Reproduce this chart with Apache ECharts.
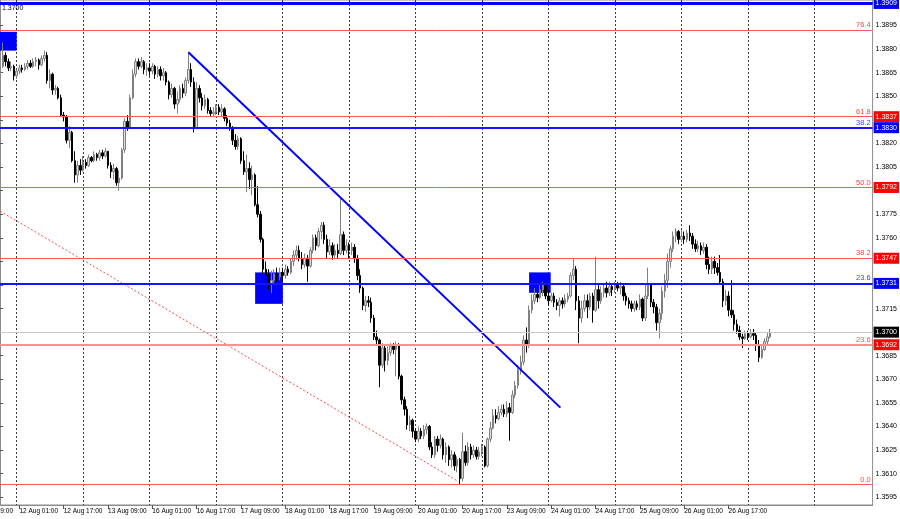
<!DOCTYPE html>
<html><head><meta charset="utf-8">
<script src="https://cdn.jsdelivr.net/npm/echarts@6/dist/echarts.min.js"></script>
<style>html,body{margin:0;padding:0;background:#fff}#c{width:900px;height:519px}</style>
</head><body><div id="c"></div>
<script>
// ---- data ----
const sessions = [['11 Aug',18,23],['12 Aug',0,23],['13 Aug',0,23],['16 Aug',0,23],['17 Aug',0,23],['18 Aug',0,23],['19 Aug',0,23],['20 Aug',0,23],['23 Aug',0,23],['24 Aug',0,23],['25 Aug',0,23],['26 Aug',0,23],['27 Aug',0,23],['30 Aug',0,21]];
const tickLabels = ['12 Aug 01:00','12 Aug 17:00','13 Aug 09:00','16 Aug 01:00','16 Aug 17:00','17 Aug 09:00','18 Aug 01:00','18 Aug 17:00','19 Aug 09:00','20 Aug 01:00','20 Aug 17:00','23 Aug 09:00','24 Aug 01:00','24 Aug 17:00','25 Aug 09:00','26 Aug 01:00','26 Aug 17:00'];
const priceTicks = [1.3595,1.3610,1.3625,1.3640,1.3655,1.3670,1.3685,1.3700,1.3715,1.3730,1.3745,1.3760,1.3775,1.3790,1.3805,1.3820,1.3835,1.3850,1.3865,1.3880,1.3895];

const opens = [
1.3865,1.3869,1.3876,1.3872,1.3868,1.3869,
1.3863,1.3866,1.3868,1.3867,1.3869,1.3871,1.3869,1.3872,1.3873,1.3870,1.3874,1.3876,1.3860,1.3864,1.3854,1.3855,1.3849,1.3838,1.3837,1.3822,1.3827,1.3809,1.3800,1.3806,
1.3803,1.3808,1.3806,1.3811,1.3809,1.3813,1.3811,1.3814,1.3812,1.3815,1.3806,1.3802,1.3804,1.3795,1.3798,1.3816,1.3834,1.3830,1.3849,1.3864,1.3872,1.3869,1.3872,1.3867,
1.3868,1.3866,1.3869,1.3864,1.3867,1.3863,1.3865,1.3859,1.3851,1.3855,1.3845,1.3848,1.3855,1.3852,1.3860,1.3867,1.3859,1.3830,1.3855,1.3849,1.3844,1.3848,1.3841,1.3839,
1.3840,1.3843,1.3840,1.3842,1.3836,1.3833,1.3830,1.3822,1.3818,1.3823,1.3809,1.3802,1.3804,1.3797,1.3800,1.3781,1.3775,1.3759,1.3740,1.3736,1.3731,1.3733,1.3737,1.3735,
1.3738,1.3736,1.3740,1.3738,1.3745,1.3749,1.3752,1.3747,1.3743,1.3747,1.3742,1.3752,1.3760,1.3755,1.3764,1.3768,1.3759,1.3751,1.3755,1.3749,1.3752,1.3750,1.3762,1.3752,
1.3755,1.3752,1.3754,1.3747,1.3736,1.3728,1.3717,1.3720,1.3719,1.3709,1.3697,1.3695,1.3679,1.3690,1.3682,1.3687,1.3691,1.3689,1.3692,1.3672,1.3657,1.3651,1.3641,1.3644,
1.3637,1.3632,1.3637,1.3634,1.3638,1.3640,1.3627,1.3622,1.3632,1.3628,1.3632,1.3622,1.3627,1.3619,1.3622,1.3615,1.3619,1.3607,1.3624,1.3617,1.3627,1.3622,1.3625,1.3621,
1.3624,1.3627,1.3615,1.3632,1.3639,1.3647,1.3645,1.3649,1.3651,1.3648,1.3652,1.3649,1.3660,1.3666,1.3676,1.3681,1.3695,1.3692,1.3714,1.3720,1.3724,1.3722,1.3727,1.3730,
1.3723,1.3720,1.3723,1.3719,1.3717,1.3720,1.3718,1.3721,1.3723,1.3736,1.3740,1.3720,1.3709,1.3715,1.3720,1.3716,1.3723,1.3714,1.3727,1.3720,1.3725,1.3728,1.3725,1.3729,
1.3727,1.3730,1.3728,1.3729,1.3723,1.3720,1.3718,1.3715,1.3718,1.3716,1.3721,1.3709,1.3723,1.3730,1.3719,1.3716,1.3706,1.3712,1.3726,1.3733,1.3745,1.3753,1.3761,1.3764,
1.3759,1.3761,1.3759,1.3763,1.3761,1.3756,1.3753,1.3755,1.3752,1.3754,1.3743,1.3740,1.3745,1.3741,1.3738,1.3732,1.3720,1.3723,1.3714,1.3711,1.3705,1.3701,1.3697,1.3696,
1.3699,1.3697,1.3699,1.3698,1.3692,1.3684,1.3689,1.3694,1.3697];

const closes = [
1.3869,1.3876,1.3872,1.3868,1.3869,1.3863,
1.3866,1.3868,1.3867,1.3869,1.3871,1.3869,1.3872,1.3873,1.3870,1.3874,1.3876,1.3860,1.3864,1.3854,1.3855,1.3849,1.3838,1.3837,1.3822,1.3827,1.3809,1.3800,1.3806,1.3803,
1.3808,1.3806,1.3811,1.3809,1.3813,1.3811,1.3814,1.3812,1.3815,1.3806,1.3802,1.3804,1.3795,1.3798,1.3816,1.3834,1.3830,1.3849,1.3864,1.3872,1.3869,1.3872,1.3867,1.3868,
1.3866,1.3869,1.3864,1.3867,1.3863,1.3865,1.3859,1.3851,1.3855,1.3845,1.3848,1.3855,1.3852,1.3860,1.3867,1.3859,1.3830,1.3855,1.3849,1.3844,1.3848,1.3841,1.3839,1.3840,
1.3843,1.3840,1.3842,1.3836,1.3833,1.3830,1.3822,1.3818,1.3823,1.3809,1.3802,1.3804,1.3797,1.3800,1.3781,1.3775,1.3759,1.3740,1.3736,1.3731,1.3733,1.3737,1.3735,1.3738,
1.3736,1.3740,1.3738,1.3745,1.3749,1.3752,1.3747,1.3743,1.3747,1.3742,1.3752,1.3760,1.3755,1.3764,1.3768,1.3759,1.3751,1.3755,1.3749,1.3752,1.3750,1.3762,1.3752,1.3755,
1.3752,1.3754,1.3747,1.3736,1.3728,1.3717,1.3720,1.3719,1.3709,1.3697,1.3695,1.3679,1.3690,1.3682,1.3687,1.3691,1.3689,1.3692,1.3672,1.3657,1.3651,1.3641,1.3644,1.3637,
1.3632,1.3637,1.3634,1.3638,1.3640,1.3627,1.3622,1.3632,1.3628,1.3632,1.3622,1.3627,1.3619,1.3622,1.3615,1.3619,1.3607,1.3624,1.3617,1.3627,1.3622,1.3625,1.3621,1.3624,
1.3627,1.3615,1.3632,1.3639,1.3647,1.3645,1.3649,1.3651,1.3648,1.3652,1.3649,1.3660,1.3666,1.3676,1.3681,1.3695,1.3692,1.3714,1.3720,1.3724,1.3722,1.3727,1.3730,1.3723,
1.3720,1.3723,1.3719,1.3717,1.3720,1.3718,1.3721,1.3723,1.3736,1.3740,1.3720,1.3709,1.3715,1.3720,1.3716,1.3723,1.3714,1.3727,1.3720,1.3725,1.3728,1.3725,1.3729,1.3727,
1.3730,1.3728,1.3729,1.3723,1.3720,1.3718,1.3715,1.3718,1.3716,1.3721,1.3709,1.3723,1.3730,1.3719,1.3716,1.3706,1.3712,1.3726,1.3733,1.3745,1.3753,1.3761,1.3764,1.3759,
1.3761,1.3759,1.3763,1.3761,1.3756,1.3753,1.3755,1.3752,1.3754,1.3743,1.3740,1.3745,1.3741,1.3738,1.3732,1.3720,1.3723,1.3714,1.3711,1.3705,1.3701,1.3697,1.3696,1.3699,
1.3697,1.3699,1.3698,1.3692,1.3684,1.3689,1.3694,1.3697,1.3700];

const highs = [
1.3871,1.3884,1.3878,1.3874,1.3872,1.3870,
1.3867,1.3870,1.3870,1.3871,1.3873,1.3873,1.3874,1.3875,1.3874,1.3876,1.3879,1.3878,1.3867,1.3865,1.3857,1.3856,1.3851,1.3840,1.3838,1.3831,1.3828,1.3815,1.3809,1.3810,
1.3812,1.3810,1.3813,1.3812,1.3815,1.3814,1.3816,1.3816,1.3817,1.3815,1.3808,1.3807,1.3805,1.3803,1.3817,1.3836,1.3838,1.3851,1.3867,1.3874,1.3874,1.3875,1.3873,1.3871,
1.3871,1.3871,1.3870,1.3869,1.3869,1.3868,1.3866,1.3860,1.3858,1.3856,1.3853,1.3857,1.3858,1.3862,1.3878,1.3871,1.3862,1.3859,1.3857,1.3852,1.3851,1.3849,1.3843,1.3843,
1.3845,1.3845,1.3845,1.3843,1.3838,1.3835,1.3831,1.3826,1.3825,1.3824,1.3815,1.3813,1.3808,1.3806,1.3801,1.3793,1.3777,1.3760,1.3745,1.3740,1.3739,1.3740,1.3741,1.3741,
1.3741,1.3743,1.3742,1.3747,1.3752,1.3755,1.3755,1.3751,1.3750,1.3749,1.3754,1.3762,1.3762,1.3766,1.3770,1.3770,1.3762,1.3759,1.3757,1.3756,1.3756,1.3785,1.3764,1.3759,
1.3757,1.3757,1.3756,1.3749,1.3740,1.3729,1.3723,1.3723,1.3722,1.3711,1.3701,1.3696,1.3693,1.3692,1.3691,1.3693,1.3693,1.3694,1.3693,1.3673,1.3659,1.3653,1.3647,1.3645,
1.3639,1.3640,1.3639,1.3641,1.3642,1.3641,1.3630,1.3634,1.3634,1.3635,1.3633,1.3630,1.3628,1.3625,1.3624,1.3621,1.3620,1.3636,1.3628,1.3630,1.3629,1.3628,1.3627,1.3627,
1.3629,1.3628,1.3633,1.3643,1.3651,1.3651,1.3653,1.3654,1.3654,1.3656,1.3655,1.3663,1.3669,1.3679,1.3685,1.3698,1.3703,1.3717,1.3724,1.3728,1.3727,1.3731,1.3732,1.3731,
1.3727,1.3725,1.3725,1.3721,1.3722,1.3722,1.3724,1.3725,1.3738,1.3747,1.3742,1.3723,1.3720,1.3724,1.3724,1.3725,1.3725,1.3748,1.3730,1.3729,1.3731,1.3732,1.3732,1.3731,
1.3732,1.3732,1.3732,1.3731,1.3725,1.3722,1.3720,1.3720,1.3720,1.3724,1.3722,1.3731,1.3741,1.3731,1.3721,1.3718,1.3715,1.3729,1.3737,1.3750,1.3755,1.3764,1.3766,1.3765,
1.3765,1.3764,1.3765,1.3768,1.3763,1.3759,1.3758,1.3757,1.3757,1.3756,1.3748,1.3748,1.3748,1.3744,1.3749,1.3734,1.3727,1.3726,1.3733,1.3714,1.3708,1.3704,1.3699,1.3701,
1.3701,1.3702,1.3702,1.3700,1.3695,1.3691,1.3696,1.3700,1.3702];

const lows = [
1.3862,1.3868,1.3869,1.3866,1.3866,1.3860,
1.3861,1.3864,1.3865,1.3866,1.3867,1.3868,1.3868,1.3869,1.3867,1.3869,1.3872,1.3858,1.3855,1.3851,1.3851,1.3848,1.3837,1.3834,1.3820,1.3817,1.3808,1.3795,1.3795,1.3800,
1.3802,1.3804,1.3805,1.3808,1.3808,1.3809,1.3809,1.3810,1.3811,1.3804,1.3798,1.3797,1.3793,1.3790,1.3797,1.3814,1.3828,1.3829,1.3848,1.3862,1.3867,1.3868,1.3864,1.3863,
1.3863,1.3864,1.3861,1.3862,1.3860,1.3860,1.3857,1.3848,1.3849,1.3842,1.3839,1.3846,1.3849,1.3850,1.3858,1.3856,1.3827,1.3829,1.3846,1.3841,1.3842,1.3839,1.3837,1.3837,
1.3838,1.3838,1.3837,1.3834,1.3831,1.3828,1.3819,1.3816,1.3816,1.3807,1.3800,1.3789,1.3791,1.3787,1.3780,1.3773,1.3757,1.3737,1.3733,1.3727,1.3725,1.3731,1.3732,1.3733,
1.3732,1.3734,1.3736,1.3737,1.3742,1.3746,1.3745,1.3740,1.3741,1.3732,1.3741,1.3750,1.3752,1.3754,1.3759,1.3756,1.3747,1.3749,1.3746,1.3747,1.3747,1.3749,1.3749,1.3750,
1.3747,1.3749,1.3744,1.3733,1.3725,1.3714,1.3713,1.3716,1.3706,1.3695,1.3692,1.3665,1.3677,1.3675,1.3679,1.3685,1.3686,1.3672,1.3670,1.3654,1.3647,1.3638,1.3637,1.3633,
1.3630,1.3630,1.3632,1.3632,1.3635,1.3625,1.3620,1.3620,1.3624,1.3626,1.3619,1.3617,1.3615,1.3614,1.3612,1.3611,1.3603,1.3605,1.3615,1.3615,1.3619,1.3620,1.3619,1.3619,
1.3621,1.3614,1.3614,1.3630,1.3638,1.3642,1.3644,1.3647,1.3646,1.3646,1.3631,1.3648,1.3658,1.3664,1.3673,1.3679,1.3687,1.3690,1.3712,1.3718,1.3719,1.3721,1.3723,1.3721,
1.3717,1.3719,1.3716,1.3714,1.3710,1.3715,1.3716,1.3719,1.3722,1.3733,1.3714,1.3693,1.3706,1.3713,1.3709,1.3714,1.3706,1.3713,1.3715,1.3718,1.3722,1.3722,1.3723,1.3723,
1.3725,1.3726,1.3724,1.3720,1.3717,1.3715,1.3713,1.3713,1.3714,1.3714,1.3707,1.3707,1.3721,1.3716,1.3712,1.3701,1.3696,1.3708,1.3722,1.3728,1.3741,1.3751,1.3757,1.3756,
1.3757,1.3756,1.3757,1.3758,1.3753,1.3751,1.3751,1.3749,1.3750,1.3740,1.3737,1.3737,1.3737,1.3736,1.3730,1.3716,1.3717,1.3710,1.3709,1.3701,1.3699,1.3695,1.3690,1.3695,
1.3695,1.3696,1.3695,1.3688,1.3681,1.3683,1.3688,1.3692,1.3696];

// horizontal levels
const levelPrices = [1.3909, 1.3892, 1.3837, 1.3830, 1.3792, 1.3747, 1.3731, 1.3700, 1.3692, 1.3603];
const levelNames  = ['',     '76.4', '61.8', '38.2', '50.0', '38.2', '23.6', '',     '23.6', '0.0'];
const levelKinds  = ['blueTop','red','redBox','blueBox','redBox','redBox','blueBox','bid','pinkBox','red'];
// trend lines (bar index, price)
const trendBlueX = [68, 202.3], trendBlueY = [1.3878, 1.3652];
const trendRedX  = [0, 165.5],  trendRedY  = [1.3777, 1.3605];
// blue rectangles: [x0, y0, x1, y1] (bar index / price)
const boxes = [[0, 1.3891, 6.03, 1.3879], [92.1, 1.3738, 102.1, 1.3718], [191, 1.3738, 198.8, 1.3725]];
const headerText = '1.3700';
const cutLabel = '11 Aug 09:00';

// ---- build ----
const categories = [];
sessions.forEach(([d,h0,h1]) => { for (let h = h0; h <= h1; h++) categories.push(d + ' ' + String(h).padStart(2,'0') + ':00'); });
const candles = opens.map((o,i) => [o, closes[i], lows[i], highs[i]]);
const tickSet = new Set(tickLabels);
const N = categories.length;

const kindStyle = {
  blueTop: {line:{color:'#0000ff',width:3}, box:'#0000ff', text:'#3030ff'},
  red:     {line:{color:'#ff5a5a',width:1}, box:null, text:'#ff3c3c'},
  redBox:  {line:{color:'#ff5a5a',width:1}, box:'#ff0000', text:'#ff3c3c'},
  blueBox: {line:{color:'#1414ff',width:2}, box:'#0000ff', text:'#3c3cff'},
  bid:     {line:{color:'#c8c8c8',width:1}, box:'#000000', text:'#000'},
  pinkBox: {line:{color:'#ff9090',width:2}, box:'#ff0000', text:'#ff5050'}
};
const FONT = "'Liberation Sans',Arial,sans-serif";
const lineData = [], nameData = [];
levelPrices.forEach((p,i) => {
  const st = kindStyle[levelKinds[i]];
  lineData.push({
    yAxis: p,
    lineStyle: {color: st.line.color, width: st.line.width, type: 'solid'},
    label: st.box ? {show:true, position:'end', distance:1, formatter: p.toFixed(4), backgroundColor: st.box, color:'#fff',
      fontSize:7, fontFamily:FONT, padding:[2,2,1,2], lineHeight:8} : {show:false}
  });
  if (levelNames[i]) {
    nameData.push({
      yAxis: p,
      lineStyle: {color:'rgba(0,0,0,0)', width:1},
      label: {show:true, position:'insideEndTop', distance:[2,1], formatter: levelNames[i], color: st.text, fontSize:7.5, fontFamily:FONT}
    });
  }
});

const chart = echarts.init(document.getElementById('c'), null, {renderer:'canvas'});
chart.setOption({
  animation: false,
  backgroundColor: '#fff',
  grid: {left:0, right:27, top:0, bottom:14, show:true, borderColor:'#8c8c8c', borderWidth:1},
  xAxis: [{
    type:'category', data: categories, boundaryGap:false,
    axisLine:{show:true, lineStyle:{color:'#8c8c8c'}},
    axisTick:{show:true, length:4, interval:(i,v)=>tickSet.has(v), lineStyle:{color:'#555'}},
    axisLabel:{interval:(i,v)=>tickSet.has(v), align:'left', margin:3, fontSize:6.5, color:'#000', fontFamily:FONT},
    splitLine:{show:true, interval:(i,v)=>v.endsWith(' 00:00'), lineStyle:{color:'#3c3c3c', type:[2,2], width:1}}
  },{
    type:'value', min:0, max:N-1, show:false
  }],
  yAxis: {
    type:'value', position:'right', min:1.35901, max:1.39112, scale:true,
    axisLine:{show:true, lineStyle:{color:'#8c8c8c'}},
    axisTick:{show:true, length:3, customValues: priceTicks, lineStyle:{color:'#555'}},
    axisLabel:{customValues: priceTicks, formatter:v=>v.toFixed(4), fontSize:7, color:'#000', margin:3, fontFamily:FONT},
    splitLine:{show:false}
  },
  graphic: [
    {type:'text', left:2, top:5, z:100, style:{text: headerText, fontSize:7, fill:'#000', fontFamily:FONT}},
    {type:'text', x:13, y:508, style:{text: cutLabel, fontSize:6.5, fill:'#000', fontFamily:FONT, align:'right', verticalAlign:'top'}}
  ],
  series: [
    {
      type:'line', xAxisIndex:1, z:1, data:[[0,1.3700]], symbol:'none', lineStyle:{opacity:0}, silent:true,
      markArea:{silent:true, itemStyle:{color:'#0000ff', opacity:1},
        data: boxes.map(b => [{coord:[b[0], b[1]]}, {coord:[b[2], b[3]]}])}
    },
    {
      type:'candlestick', z:2, data: candles, barWidth:2,
      itemStyle:{color:'#dcdcdc', color0:'#000000', borderColor:'#808080', borderColor0:'#000000', borderWidth:1}
    },
    {
      type:'line', xAxisIndex:1, z:3, data:[[0,1.3700]], symbol:'none', lineStyle:{opacity:0}, silent:true,
      markLine:{silent:true, precision:5, symbol:['none','none'], data: lineData}
    },
    {
      type:'line', xAxisIndex:1, z:3, data:[[0,1.3700]], symbol:'none', lineStyle:{opacity:0}, silent:true,
      markLine:{silent:true, precision:5, symbol:['none','none'], data: nameData}
    },
    {
      type:'line', xAxisIndex:1, z:4, data: trendBlueX.map((x,i)=>[x, trendBlueY[i]]), symbol:'none', silent:true,
      lineStyle:{color:'#0000ff', width:2}
    },
    {
      type:'line', xAxisIndex:1, z:4, data: trendRedX.map((x,i)=>[x, trendRedY[i]]), symbol:'none', silent:true,
      lineStyle:{color:'#ff4a4a', width:1, type:[2,2]}
    }
  ]
});
if (opens.length!==279||closes.length!==279||highs.length!==279||lows.length!==279||N!==316) {
  chart.setOption({title:{text:'LEN '+opens.length+' '+closes.length+' '+highs.length+' '+lows.length+' '+N, left:300, top:200}});
}
</script></body></html>
